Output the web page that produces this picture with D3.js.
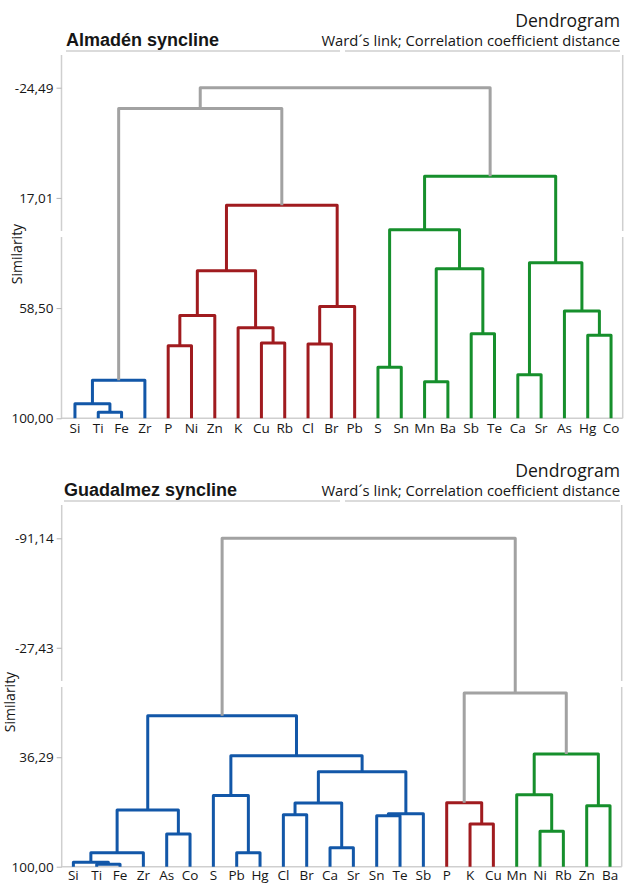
<!DOCTYPE html>
<html>
<head>
<meta charset="utf-8">
<script src="https://cdn.jsdelivr.net/npm/d3@7"></script>
<style>
  body { margin: 0; background: #fff; }
  text { font-family: "Open Sans", sans-serif; fill: #161616; }
</style>
</head>
<body>
<svg id="svg_dendro"></svg>
<script>
// ---- data: Almadén syncline ----
let topLeaves = ["Si", "Ti", "Fe", "Zr", "P", "Ni", "Zn", "K", "Cu", "Rb", "Cl", "Br", "Pb",
    "S", "Sn", "Mn", "Ba", "Sb", "Te", "Ca", "Sr", "As", "Hg", "Co"];
let topGroups = [0, 0, 0, 0, 1, 1, 1, 1, 1, 1, 1, 1, 1, 2, 2, 2, 2, 2, 2, 2, 2, 2, 2, 2];
// merges: [left, right, similarity] - strings are leaves, numbers point to earlier merges
let topMerges = [
    ["Ti", "Fe", 97.7],   // 0
    ["Si", 0, 94.5],      // 1
    [1, "Zr", 85.7],      // 2
    ["P", "Ni", 72.7],    // 3
    [3, "Zn", 61.3],      // 4
    ["Cu", "Rb", 71.6],   // 5
    ["K", 5, 65.9],       // 6
    [4, 6, 44.4],         // 7
    ["Cl", "Br", 72.0],   // 8
    [8, "Pb", 57.9],      // 9
    [7, 9, 19.8],         // 10
    [2, 10, -16.7],       // 11
    ["S", "Sn", 80.8],    // 12
    ["Mn", "Ba", 86.2],   // 13
    ["Sb", "Te", 68.2],   // 14
    [13, 14, 43.7],       // 15
    [12, 15, 29.0],       // 16
    ["Ca", "Sr", 83.6],   // 17
    ["Hg", "Co", 68.7],   // 18
    ["As", 18, 59.6],     // 19
    [17, 19, 41.4],       // 20
    [16, 20, 8.9],        // 21
    [11, 21, -24.49]      // 22
];
let topTicks = [-24.49, 17.01, 58.50, 100];

// ---- data: Guadalmez syncline ----
let botLeaves = ["Si", "Ti", "Fe", "Zr", "As", "Co", "S", "Pb", "Hg", "Cl", "Br", "Ca", "Sr",
    "Sn", "Te", "Sb", "P", "K", "Cu", "Mn", "Ni", "Rb", "Zn", "Ba"];
let botGroups = [0, 0, 0, 0, 0, 0, 0, 0, 0, 0, 0, 0, 0, 0, 0, 0, 1, 1, 1, 2, 2, 2, 2, 2];
let botMerges = [
    ["Ti", "Fe", 98.6],   // 0
    ["Si", 0, 97.4],      // 1
    [1, "Zr", 91.9],      // 2
    ["As", "Co", 81.0],   // 3
    [2, 3, 67.0],         // 4
    ["Pb", "Hg", 91.9],   // 5
    ["S", 5, 58.5],       // 6
    ["Cl", "Br", 69.7],   // 7
    ["Ca", "Sr", 88.9],   // 8
    [7, 8, 62.9],         // 9
    ["Sn", "Te", 70.3],   // 10
    [10, "Sb", 69.2],     // 11
    [9, 11, 44.7],        // 12
    [6, 12, 35.4],        // 13
    [4, 13, 12.1],        // 14
    ["K", "Cu", 75.1],    // 15
    ["P", 15, 62.8],      // 16
    ["Ni", "Rb", 79.4],   // 17
    ["Mn", 17, 58.1],     // 18
    ["Zn", "Ba", 64.5],   // 19
    [18, 19, 34.4],       // 20
    [16, 20, -1.1],       // 21
    [14, 21, -91.14]      // 22
];
let botTicks = [-91.14, -27.43, 36.29, 100];

let groupColors = ["#1257a8", "#a01b1f", "#168f2c"];
let linkGray = "#a2a2a2";
let frameGray = "#cfcfcf";

// number format with comma decimal
let fmt = d3.formatLocale({ decimal: ",", thousands: ".", grouping: [3], currency: ["", ""], minus: "-" })
    .format(".2f");

let svg = d3.select("#svg_dendro")
    .attr("width", 624)
    .attr("height", 884);

function dendrogram(p) {
    let g = svg.append("g")
        .attr("transform", "translate(0," + p.top + ")");

    // leaf positions and similarity scale
    let x = d3.scalePoint()
        .domain(p.leaves)
        .range([p.left, p.right])
        .padding(0.5);
    let y = d3.scaleLinear()
        .domain([100, p.ticks[0]])
        .range([p.bottom, p.yTop]);

    // header texts
    g.append("text")
        .attr("x", 620).attr("y", 27)
        .attr("text-anchor", "end")
        .attr("font-size", 17.6)
        .text("Dendrogram");
    g.append("text")
        .attr("x", 620).attr("y", 46)
        .attr("text-anchor", "end")
        .attr("font-size", 14.8)
        .text("Ward´s link; Correlation coefficient distance");
    g.append("text")
        .attr("x", p.titleX).attr("y", 46)
        .style("font-family", "'Liberation Sans', Arial, sans-serif")
        .attr("font-weight", "bold")
        .attr("font-size", 18)
        .text(p.title);

    // header underline (split in two)
    g.append("path")
        .attr("d", `M${p.titleX},51H340M345,51H620`)
        .attr("stroke", frameGray)
        .attr("stroke-width", 1.5)
        .attr("fill", "none");

    // frame: left axis, right edge and baseline (with the small gap in the sides)
    g.append("path")
        .attr("d", `M${p.axisX},55V231M${p.axisX},237V${p.bottom}H${p.right}` +
            `M${p.right},55V231M${p.right},237V${p.bottom}`)
        .attr("stroke", frameGray)
        .attr("stroke-width", 1.5)
        .attr("fill", "none");

    // y axis ticks
    let axis = g.append("g")
        .attr("transform", "translate(" + p.axisX + ",0)")
        .call(d3.axisLeft(y).tickValues(p.ticks).tickFormat(fmt).tickSize(5).tickPadding(3));
    axis.select(".domain").remove();
    axis.selectAll(".tick line").attr("stroke", "#b5b5b5");
    axis.selectAll(".tick text")
        .attr("font-family", null)
        .attr("font-size", 13.5)
        .style("fill", "#161616");

    // axis title
    g.append("text")
        .attr("transform", `translate(${p.labelX},${p.labelY}) rotate(-90)`)
        .attr("text-anchor", "middle")
        .attr("font-size", 14)
        .text("Similarity");

    // leaf labels
    g.selectAll("text.leaf")
        .data(p.leaves)
        .enter().append("text")
            .attr("class", "leaf")
            .attr("x", d => x(d))
            .attr("y", p.bottom + p.leafDy)
            .attr("text-anchor", "middle")
            .attr("font-size", 13.5)
            .text(d => d);

    // build the merge nodes
    let nodes = [];
    let pos = function(ref) {
        if (typeof ref === "string") {
            return { x: x(ref), s: 100, group: p.groups[p.leaves.indexOf(ref)] };
        }
        return nodes[ref];
    };
    p.merges.forEach(m => {
        let a = pos(m[0]);
        let b = pos(m[1]);
        nodes.push({
            a: a, b: b, s: m[2],
            x: (a.x + b.x) / 2,
            group: a.group === b.group ? a.group : -1 // gray above the clusters
        });
    });

    // draw each link as an upside-down U
    g.selectAll("path.link")
        .data(nodes)
        .enter().append("path")
            .attr("class", "link")
            .attr("d", d => `M${d.a.x},${y(d.a.s)}V${y(d.s)}H${d.b.x}V${y(d.b.s)}`)
            .attr("fill", "none")
            .attr("stroke", d => d.group < 0 ? linkGray : groupColors[d.group])
            .attr("stroke-width", 3)
            .attr("stroke-linejoin", "round");
}

dendrogram({
    top: 0, title: "Almadén syncline", titleX: 66,
    leaves: topLeaves, groups: topGroups, merges: topMerges, ticks: topTicks,
    axisX: 61.5, left: 63.3, right: 622.7, bottom: 418.3, yTop: 87.7,
    labelX: 22, labelY: 254, leafDy: 15
});
dendrogram({
    top: 450, title: "Guadalmez syncline", titleX: 64,
    leaves: botLeaves, groups: botGroups, merges: botMerges, ticks: botTicks,
    axisX: 61.7, left: 61.7, right: 621.7, bottom: 416.7, yTop: 88.3,
    labelX: 15, labelY: 252, leafDy: 13
});
</script>
</body>
</html>
